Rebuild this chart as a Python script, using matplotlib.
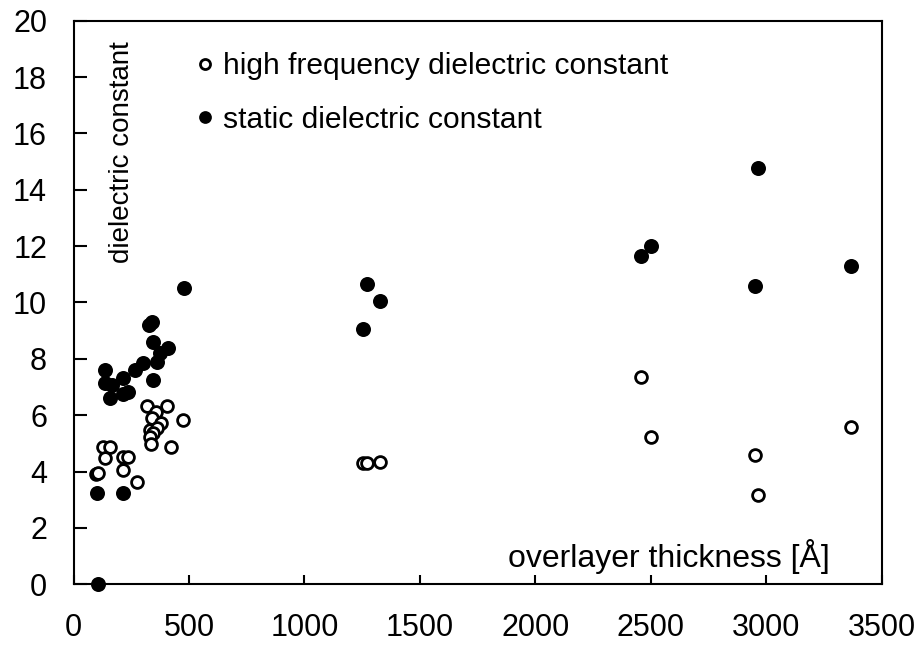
"""Dielectric constant vs overlayer thickness scatter."""

import matplotlib
matplotlib.use("Agg")
import matplotlib.pyplot as plt

plt.rcParams["font.family"] = ["Liberation Sans", "DejaVu Sans"]

# high frequency dielectric constant (open circles)
hf_thickness = [98, 104, 129, 158, 136, 216, 237, 216, 274,
                317, 357, 406, 476, 339, 378, 331, 360, 346, 331,
                334, 421, 1252, 1270, 1329, 2460, 2500, 2952, 2967, 3366]
hf_eps = [3.91, 3.96, 4.88, 4.88, 4.47, 4.53, 4.53, 4.06, 3.64,
          6.33, 6.12, 6.33, 5.83, 5.89, 5.71, 5.48, 5.54, 5.36, 5.24,
          4.98, 4.88, 4.32, 4.29, 4.35, 7.36, 5.23, 4.59, 3.18, 5.57]

# static dielectric constant (filled circles)
st_thickness = [107, 100, 216, 136, 136, 165, 158, 216, 216, 236,
                266, 302, 327, 339, 346, 360, 346, 375, 411,
                478, 1252, 1270, 1329, 2457, 2500, 2967, 2952, 3366]
st_eps = [0.0, 3.23, 3.23, 7.61, 7.13, 7.07, 6.60, 7.31, 6.74, 6.84,
          7.61, 7.84, 9.20, 9.32, 8.61, 7.90, 7.25, 8.20, 8.37,
          10.52, 9.05, 10.65, 10.04, 11.65, 11.99, 14.77, 10.58, 11.28]

fig = plt.figure(figsize=(9.2, 6.48), dpi=100)
ax = fig.add_axes([0.0799, 0.0983, 0.8783, 0.8698])

ax.plot(st_thickness, st_eps, linestyle="none", marker="o", markersize=10.8,
        markerfacecolor="black", markeredgecolor="black", markeredgewidth=0,
        label="static dielectric constant", clip_on=False, zorder=3)
ax.plot(hf_thickness, hf_eps, linestyle="none", marker="o", markersize=8.5,
        markerfacecolor="white", markeredgecolor="black", markeredgewidth=2,
        label="high frequency dielectric constant", clip_on=False, zorder=4)

ax.set_xlim(0, 3500)
ax.set_ylim(0, 20)
ax.set_xticks(range(0, 3501, 500))
ax.set_yticks(range(0, 21, 2))
ax.tick_params(direction="in", width=1.5, labelsize=22)
ax.tick_params(axis="x", length=6.7, pad=21)
ax.tick_params(axis="y", length=9, pad=19)
for spine in ax.spines.values():
    spine.set_linewidth(1.5)

ax.text(0.0597, 0.9627, "dielectric constant", transform=ax.transAxes,
        rotation=90, ha="center", va="top", fontsize=20)
ax.text(0.936, 0.0307, "overlayer thickness [Å]", transform=ax.transAxes,
        ha="right", va="baseline", fontsize=23)

handles, labels = ax.get_legend_handles_labels()
ax.legend(handles[::-1], labels[::-1], loc="upper left",
          bbox_to_anchor=(0.1516, 0.9444), frameon=False, fontsize=21.6,
          markerscale=0.85, handlelength=0.6, handletextpad=0.3,
          labelspacing=0.85, borderaxespad=0, borderpad=0)

fig.savefig("out.png", dpi=100)
